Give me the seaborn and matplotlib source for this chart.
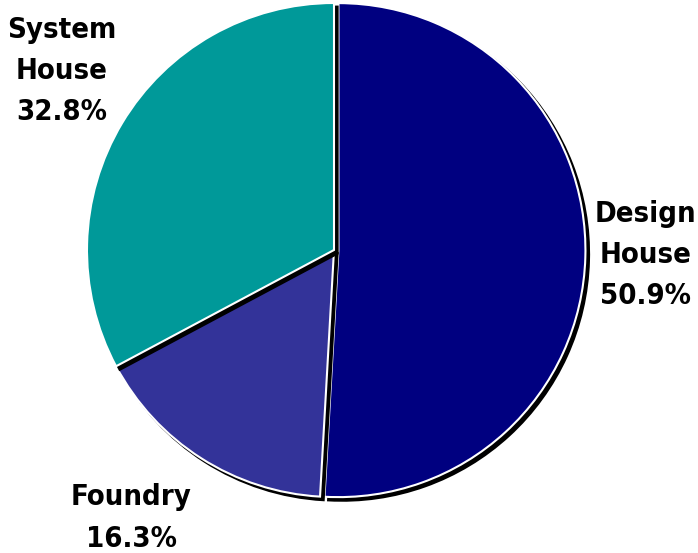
import matplotlib
matplotlib.use("Agg")
import matplotlib.pyplot as plt
import matplotlib.patches as mpatches
import numpy as np
import seaborn as sns

# chart data
segments = ["Design\nHouse", "Foundry", "System\nHouse"]
shares = [50.9, 16.3, 32.8]
colors = ["#000080", "#333399", "#009999"]
explode = [0.018, 0, 0]
# label placement: distance from centre (radii) and nudge of the angle (deg)
label_dist = [1.26, 1.36, 1.32]
label_shift = [0.7, -4.5, -2.3]

sns.set_style("white")
plt.rcParams['font.family'] = ['DejaVu Sans']

fig = plt.figure(figsize=(6.98, 5.53), dpi=100)
ax = fig.add_axes([0, 0, 1, 1])

wedges, _ = ax.pie(shares, colors=colors, explode=explode, startangle=90,
                   counterclock=False,
                   wedgeprops=dict(edgecolor="white", linewidth=1.5))

# black drop shadow, drawn wedge by wedge (offset is in data units * dpi/72)
for i, w in enumerate(wedges):
    w.set_zorder(2 * i + 2)
    sh = mpatches.Shadow(w, 0.0105, -0.0105, facecolor="black",
                         edgecolor="black", alpha=1, zorder=2 * i + 1)
    ax.add_patch(sh)

for w, name, val, d, s in zip(wedges, segments, shares, label_dist, label_shift):
    ang = np.deg2rad((w.theta1 + w.theta2) / 2 + s)
    ax.text(d * np.cos(ang), d * np.sin(ang), f"{name}\n{val:.1f}%",
            ha="center", va="center", fontsize=21, fontweight="bold",
            fontstretch="condensed", linespacing=1.6, color="black")

ax.set_xlim(-334 / 247, (698 - 334) / 247)
ax.set_ylim(-303 / 247, 250 / 247)
ax.set_aspect("equal", adjustable="datalim")
ax.axis("off")

fig.savefig("out.png", dpi=100)
